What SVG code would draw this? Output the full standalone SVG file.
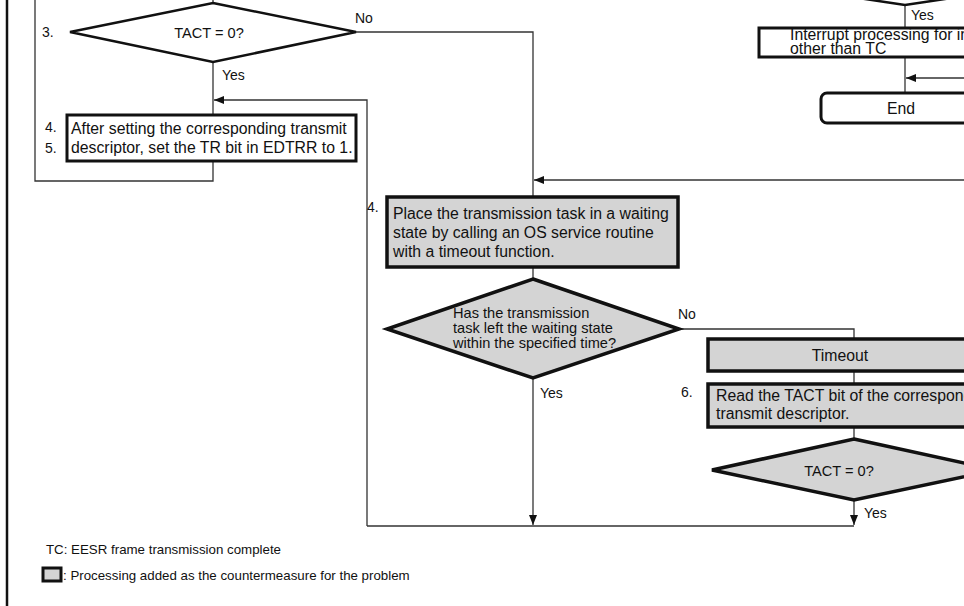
<svg xmlns="http://www.w3.org/2000/svg" width="964" height="606" viewBox="0 0 964 606">
  <defs>
    <marker id="arrow" viewBox="0 0 10 8" refX="10" refY="4" markerWidth="10" markerHeight="8" markerUnits="userSpaceOnUse" orient="auto">
      <path d="M0,0 L10,4 L0,8 Z" fill="#111"/>
    </marker>
    <style>
      text { font-family: "Liberation Sans", Arial, sans-serif; fill: #111; }
      .tb { font-size: 15.8px; }
      .td { font-size: 14.6px; }
      .tl { font-size: 14px; }
      .tg { font-size: 13.3px; }
      .mid { text-anchor: middle; }
      .conn { fill: none; stroke: #333; stroke-width: 1.3; }
      .box { fill: #fff; stroke: #111; stroke-width: 3; }
      .added { fill: #d4d4d4; stroke: #111; stroke-width: 3.5; }
      .dia { fill: #fff; stroke: #111; stroke-width: 2.5; }
    </style>
  </defs>
  <rect width="964" height="606" fill="#fff"/>

  <!-- page frame line on the left -->
  <line x1="7" y1="0" x2="7" y2="606" stroke="#111" stroke-width="2.5"/>

  <!-- connectors -->
  <g id="connectors">
    <!-- loop back on the left -->
    <path class="conn" d="M213,161 V181 H35 V0" stroke="#666"/>
    <line class="conn" x1="213" y1="0" x2="213" y2="4"/>
    <line class="conn" x1="213" y1="62" x2="213" y2="115"/>
    <path class="conn" d="M367,526 V100 H214" marker-end="url(#arrow)"/>
    <!-- No branch of TACT = 0? -->
    <path class="conn" d="M356,32 H533 V197"/>
    <line class="conn" x1="964" y1="180" x2="534" y2="180" marker-end="url(#arrow)" stroke-width="1.6"/>
    <line class="conn" x1="533" y1="267" x2="533" y2="280"/>
    <line class="conn" x1="533" y1="378" x2="533" y2="525" marker-end="url(#arrow)"/>
    <!-- timeout branch -->
    <path class="conn" d="M679,329 H854 V339"/>
    <line class="conn" x1="854" y1="371" x2="854" y2="384"/>
    <line class="conn" x1="854" y1="427" x2="854" y2="440"/>
    <line class="conn" x1="854" y1="500" x2="854" y2="525" marker-end="url(#arrow)"/>
    <line class="conn" x1="367" y1="526" x2="854" y2="526"/>
    <!-- right column -->
    <line class="conn" x1="905" y1="5" x2="905" y2="28"/>
    <line class="conn" x1="905" y1="57" x2="905" y2="93"/>
    <line class="conn" x1="964" y1="78" x2="906" y2="78" marker-end="url(#arrow)"/>
  </g>

  <!-- decision: TACT = 0? (step 3) -->
  <g id="decision-tact-1">
    <polygon class="dia" points="213,3 356,32 213,62 70,32"/>
    <text class="td mid" x="209" y="38">TACT = 0?</text>
    <text class="tl" x="42" y="37">3.</text>
    <text class="tl" x="355" y="23">No</text>
    <text class="tl" x="222" y="80">Yes</text>
  </g>

  <!-- process: set descriptor and TR bit (steps 4, 5) -->
  <g id="process-set-tr">
    <rect class="box" x="67" y="115" width="289" height="46"/>
    <text class="tb" x="71" y="134">After setting the corresponding transmit</text>
    <text class="tb" x="71" y="153">descriptor, set the TR bit in EDTRR to 1.</text>
    <text class="tl" x="45" y="132">4.</text>
    <text class="tl" x="45" y="153">5.</text>
  </g>

  <!-- right column: interrupt handling -->
  <g id="decision-interrupt">
    <polygon class="dia" points="905,-25 1005,-10 905,5 805,-10"/>
    <text class="tl" x="911" y="20">Yes</text>
  </g>
  <g id="process-interrupt">
    <rect class="box" x="759" y="28" width="220" height="29"/>
    <text class="tb" x="790" y="40">Interrupt processing for interrupts</text>
    <text class="tb" x="790" y="54">other than TC</text>
  </g>
  <g id="terminal-end">
    <rect class="box" x="821" y="93" width="160" height="30" rx="6" ry="6" stroke-width="2.5"/>
    <text class="tb mid" x="901" y="114">End</text>
  </g>

  <!-- process: wait with timeout (step 4) -->
  <g id="process-wait">
    <rect class="added" x="387" y="197" width="291" height="70"/>
    <text class="tb" x="393" y="219">Place the transmission task in a waiting</text>
    <text class="tb" x="393" y="238">state by calling an OS service routine</text>
    <text class="tb" x="393" y="257">with a timeout function.</text>
    <text class="tl" x="367" y="212">4.</text>
  </g>

  <!-- decision: left waiting state in time? -->
  <g id="decision-wait">
    <polygon class="added" points="533,279 679,329 533,378 387,329"/>
    <text class="td" x="453" y="318">Has the transmission</text>
    <text class="td" x="453" y="333">task left the waiting state</text>
    <text class="td" x="453" y="348">within the specified time?</text>
    <text class="tl" x="678" y="319">No</text>
    <text class="tl" x="540" y="398">Yes</text>
  </g>

  <!-- timeout -->
  <g id="process-timeout">
    <rect class="added" x="708" y="339" width="280" height="32"/>
    <text class="tb mid" x="840" y="361">Timeout</text>
  </g>

  <!-- read TACT bit (step 6) -->
  <g id="process-read-tact">
    <rect class="added" x="708" y="384" width="280" height="43"/>
    <text class="tb" x="716" y="401">Read the TACT bit of the corresponding</text>
    <text class="tb" x="716" y="419">transmit descriptor.</text>
    <text class="tl" x="681" y="397">6.</text>
  </g>

  <!-- decision: TACT = 0? (after timeout) -->
  <g id="decision-tact-2">
    <polygon class="added" points="854,439 996,470 854,500 712,470"/>
    <text class="td mid" x="839" y="476">TACT = 0?</text>
    <text class="tl" x="864" y="518">Yes</text>
  </g>

  <!-- legend -->
  <g id="legend">
    <text class="tg" x="46" y="554">TC: EESR frame transmission complete</text>
    <rect x="43" y="568" width="18" height="13" fill="#d4d4d4" stroke="#111" stroke-width="3"/>
    <text class="tg" x="63" y="580">: Processing added as the countermeasure for the problem</text>
  </g>
</svg>
